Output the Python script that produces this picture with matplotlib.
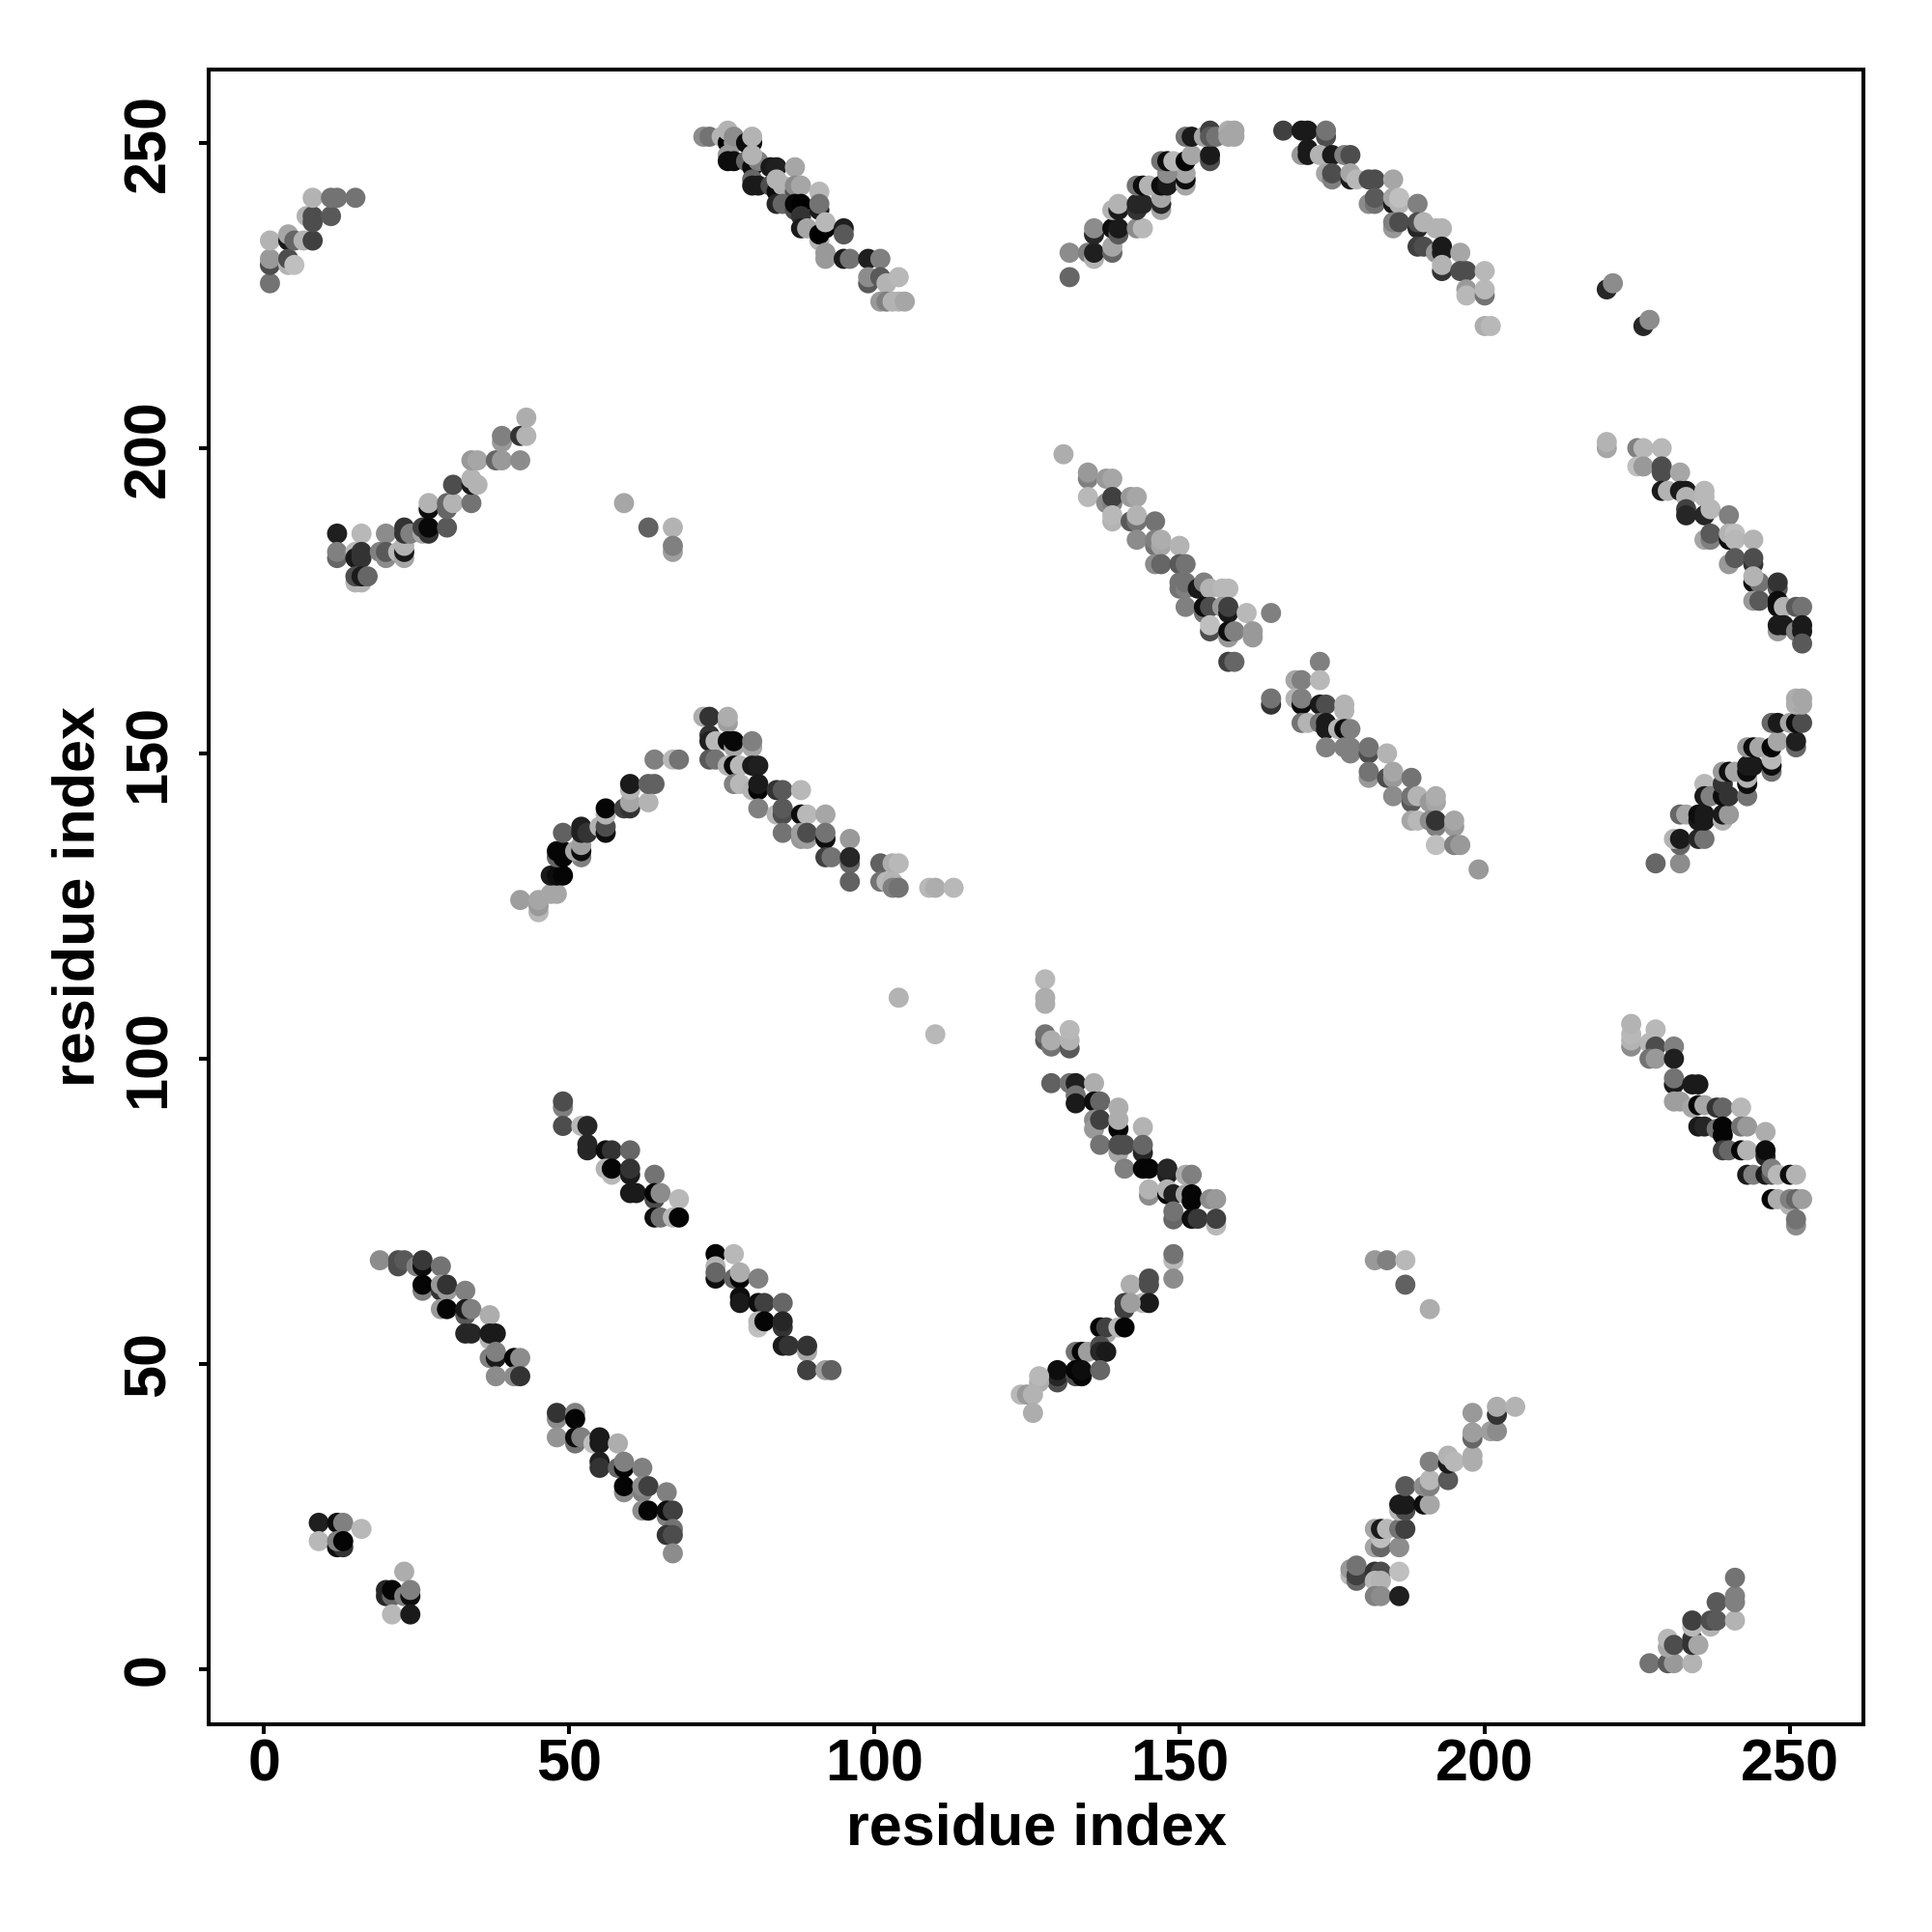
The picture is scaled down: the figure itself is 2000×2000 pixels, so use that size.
import matplotlib
matplotlib.use("Agg")
import matplotlib.pyplot as plt

# each record: residue index i, residue index j, grey level of the contact
top_left = [(1,227,.45),(1,230,.3),(1,231,.6),(1,234,.7),(4,234,.1),(4,235,.65),(4,230,.7),(4,231,.3),(5,230,.75),(5,234,.4),(6.5,234,.7),(8,234,.25),
 (7,238,.7),(8,237,.3),(8,238,.3),(11,238,.35),(8,241,.7),(11,241,.45),(12,241,.45),(15,241,.45)]
top_band = [(72,251,.55),(73,251,.45),(75,251,.7),(76,250,0),(76,252,.7),(77,250,.6),(77,251,.55),(79,250,.05),(80,250,.05),(80,251,.7),
 (76,248,.6),(76,247,.05),(77,247,.05),(79,247,.4),(80,246,.05),(81,247,.5),(80,248,.7),(83,246,.1),(84,246,.12),(87,246,.65),
 (80,244,.4),(80,243,.1),(81,243,.1),(83,243,.3),(84,242,.05),(84,244,.7),(85,243,.7),(87,242,.3),(87,243,.55),(88,243,.65),(91,242,.72),
 (84,240,.15),(85,240,.4),(87,239,.3),(87,240,.03),(88,240,0),(88,238,.2),(91,239,.1),(91,240,.45),
 (88,236,.1),(89,236,.65),(91,234,.7),(91,235,0),(92,236,0),(92,237,.72),(95,236,.12),(95,235,.35),
 (92,232,.6),(92,231,.6),(95,231,.1),(96,231,.45),(99,231,.12),(101,231,.5),(99,227,.35),(99,228,.55),(101,228,.35),(102,227,.7),(104,228,.72),
 (101,224,.6),(102,224,.5),(103,224,.7),(104,224,.7),(105,224,.65)]
left_rise = [(12,186,.12),(16,186,.72),(20,186,.55),(12,182,.4),(12,183,.5),(15,183,.72),(15,182,.1),(16,182,.2),(16,183,.2),
 (19,183,.5),(20,182,.55),(20,183,.35),(22,183,.72),(23,182,.65),(23,183,.1),(23,184,.7),
 (15,178,.7),(16,178,.7),(15,179,.3),(16,179,.1),(17,179,.4),(23,186,.2),(23,187,.2),(24,186,.5),
 (26,186,.65),(26,187,.25),(27,186,.2),(27,187,.03),(30,187,.35),(27,190,.05),(27,191,.7),(30,190,.4),(30,191,.4),(31,191,.7),(34,191,.45),(31,194,.3),
 (34,194,.1),(34,195,.7),(35,194,.7),(34,198,.6),(35,198,.65),(38,198,.4),(39,198,.6),(42,198,.55),(39,201,.6),(39,202,.5),(42,202,.2),(43,202,.7),(43,205,.68)]
lone_left = [(59,191,.65),(63,187,.38),(67,187,.7),(67,183,.62),(67,184,.5)]
top_rise = [(132,228,.4),(132,232,.55),(135,232,.5),(136,231,.7),(136,232,.12),(139,232,.4),(139,233,.65),
 (136,235,.15),(136,236,.55),(139,236,.05),(140,235,.35),(140,236,.1),(143,236,.55),(144,236,.72),
 (139,239,.7),(140,239,.1),(140,240,.7),(143,239,.2),(143,240,.15),(144,240,.15),(147,239,.65),(147,240,.15),(147,241,.65),
 (143,243,.45),(144,243,.05),(145,243,.7),(147,243,.05),(148,243,.1),(151,243,.65),(151,244,.05),(151,245,.65),(148,245,.55),
 (147,247,.45),(148,247,.05),(149,247,.72),(151,247,.02),(152,248,.65),(155,247,.3),(155,248,.1),
 (151,251,.45),(152,251,.1),(154,251,.65),(155,252,.25),(155,251,.35),(156,251,.45),(158,252,.68),(159,252,.65),(158,251,.65),(159,251,.65)]
top_fall = [(167,252,.25),(170,252,.1),(171,252,.1),(174,251,.3),(174,252,.45),
 (170,248,.6),(171,249,.1),(171,248,.1),(173,248,.7),(175,248,.1),(177,248,.5),(178,248,.3),
 (174,245,.65),(175,244,.5),(175,245,.3),(178,244,.1),(178,245,.65),(179,244,.72),(181,244,.3),(182,244,.3),(185,244,.65),
 (181,240,.55),(182,240,.45),(182,241,.35),(185,240,.1),(185,241,.65),(186,240,.7),(186,241,.75),(189,240,.5),
 (185,236,.6),(185,237,.5),(186,237,.3),(189,236,.15),(189,237,.3),(190,237,.7),(192,236,.7),(193,236,.7),
 (189,233,.25),(190,233,.3),(192,232,.6),(193,232,.12),(193,233,.1),(196,232,.65),
 (193,229,.2),(193,230,.7),(196,229,.3),(197,229,.3),(200,229,.72),(197,226,.6),(197,225,.72),(200,225,.45),(200,226,.72),(200,220,.68),(201,220,.72)]
lone_top_right = [(220,226,.15),(221,227,.55),(226,220,.15),(227,221,.55)]
right_fall = [(220,200,.65),(220,201,.7),(225,200,.5),(226,200,.72),(229,200,.72),
 (225,197,.75),(226,197,.6),(229,196,.3),(229,197,.3),(232,196,.65),
 (229,193,.1),(230,193,.7),(232,193,.1),(233,193,.1),(233,192,.7),(236,192,.72),(236,193,.72),
 (233,190,.25),(233,189,.15),(236,189,.15),(237,190,.72),(240,189,.5),
 (236,185,.65),(237,185,.5),(237,186,.35),(240,185,.05),(240,186,.7),(241,186,.75),(241,185,.72),(244,185,.7),
 (240,181,.6),(241,182,.35),(244,181,.2),(244,182,.3),
 (244,178,.05),(245,178,.45),(244,179,.7),(248,177,.35),(248,178,.2),
 (244,175,.6),(245,175,.35),(248,175,.05),(248,174,.05),(249,174,.7),(251,174,.35),(252,174,.45),
 (248,170,.6),(248,171,.1),(249,171,.1),(251,170,.5),(252,171,.1),(252,170,.1),(252,168,.35)]
mid_fall_upper = [(131,199,.68),(135,195,.5),(135,196,.6),(135,192,.72),(138,195,.6),(139,195,.65),
 (138,191,.55),(139,191,.5),(139,192,.25),(139,188,.7),(139,189,.72),(142,192,.6),(143,192,.65),
 (142,188,.35),(143,188,.45),(143,189,.7),(146,188,.45),
 (143,185,.55),(146,184,.45),(146,185,.5),(147,184,.65),(147,185,.68),(150,184,.7),
 (146,181,.55),(147,181,.4),(150,181,.35),(151,181,.45),
 (150,177,.45),(150,178,.45),(151,177,.5),(151,178,.45),(153,177,.1),(154,178,.5),(155,177,.7),(157,177,.72),(158,177,.72),
 (151,174,.5),(154,173,.45),(154,174,.05),(155,174,.3),(157,174,.6),(158,173,.1),(158,174,.25),(161,173,.72),(165,173,.5),
 (155,170,.3),(155,171,.75),(158,169,.6),(158,170,.05),(159,170,.5),(162,169,.6),(162,170,.6),(158,165,.25),(159,165,.4)]
mid_fall_lower = [(173,165,.5),(169,162,.65),(170,162,.5),(173,162,.72),(165,158,.2),(165,159,.45),
 (169,159,.7),(170,158,.05),(170,159,.5),(173,158,.1),(174,158,.3),(177,157,.7),(177,158,.7),
 (170,155,.45),(171,155,.7),(173,155,.45),(174,154,.1),(174,155,.1),(176,154,.7),(177,154,.05),(178,154,.5),
 (174,151,.5),(177,151,.5),(178,150,.5),(178,151,.5),(181,150,.3),(181,151,.45),(184,150,.7),
 (181,146,.6),(181,147,.45),(184,146,.3),(185,146,.6),(185,147,.65),(188,146,.45),
 (185,143,.55),(188,142,.35),(188,143,.45),(189,143,.7),(191,142,.6),(192,142,.65),(192,143,.68),
 (188,139,.65),(189,139,.72),(191,139,.55),(192,138,.5),(192,139,.2),(195,138,.6),(195,139,.65),
 (192,135,.75),(195,135,.5),(196,135,.6),(199,131,.6)]
right_rise = [(228,132,.4),(232,132,.55),(232,135,.4),(231,136,.7),(232,136,.1),(235,136,.15),(236,136,.45),
 (232,140,.4),(233,140,.65),(235,139,.1),(235,140,.05),(236,139,.1),(236,140,.1),(239,139,.7),(239,140,.1),(240,140,.6),
 (236,145,.72),(236,143,.1),(237,143,.5),(239,143,.05),(239,145,.2),(240,143,.2),(243,143,.45),(243,145,.05),(243,146,.7),
 (239,147,.6),(240,147,.05),(241,147,.65),(243,147,.05),(243,148,.1),(244,148,.1),(247,147,.45),(247,148,.05),(247,149,.72),
 (243,151,.6),(244,151,.05),(245,151,.65),(247,151,.02),(248,152,.65),(251,151,.4),(251,152,.12),
 (247,155,.4),(248,155,.1),(250,155,.65),(251,155,.05),(252,155,.3),(251,158,.68),(252,158,.65),(251,159,.68),(252,159,.65)]
peak_rise = [(42,126,.62),(45,124,.72),(45,125,.6),(45,126,.65),(47,127,.65),(48,127,.65),(47,130,.1),(48,130,.05),(49,130,.02),
 (48,133,.4),(48,134,.02),(49,133,.02),(49,134,.02),(52,133,.5),(51,134,.65),(52,134,.05),(52,135,.62),
 (49,137,.38),(52,137,.12),(52,138,.12),(53,137,.2),(55,138,.7),(56,137,.05),(56,138,.3),
 (56,140,.7),(56,141,.02),(59,141,.25),(60,141,.2),(60,142,.65),(63,142,.7),(60,144,.7),(60,145,.1),
 (63,145,.38),(64,145,.38),(64,149,.5),(67,149,.72),(68,149,.45)]
peak_fall = [(72,156,.68),(73,156,.2),(76,155,.62),(76,156,.68),(73,153,.2),(73,152,.12),(74,152,.72),(76,152,.03),(77,151,.65),(77,152,.03),(80,151,.65),(80,152,.5),
 (73,149,.35),(74,149,.45),(76,148,.7),(77,148,.02),(78,148,.72),(80,148,.1),(81,148,.12),
 (77,145,.5),(78,145,.72),(80,144,.7),(81,144,.02),(81,145,.1),(84,144,.2),(85,144,.35),(88,144,.72),
 (81,141,.5),(84,140,.7),(85,140,.3),(85,141,.35),(88,140,.05),(89,140,.72),(92,140,.65),
 (85,137,.45),(88,136,.6),(88,137,.62),(89,136,.62),(89,137,.3),(92,136,.05),(92,137,.45),(96,136,.6),
 (92,133,.25),(93,133,.45),(96,132,.4),(96,133,.15),(96,129,.38),
 (101,132,.38),(103,132,.68),(104,132,.72),(101,129,.45),(102,129,.72),(103,129,.7),(103,128,.5),(104,128,.45),(109,128,.72),(110,128,.68),(113,128,.72),
 (104,110,.7),(110,104,.72)]
centre_fall = [(49,92,.5),(49,93,.3),(49,89,.3),(52,89,.72),(53,89,.15),(53,85,.15),(53,86,.15),(56,85,.05),(57,85,.2),(60,85,.4),
 (56,82,.7),(57,81,.72),(57,82,.02),(60,81,.1),(60,82,.2),(64,81,.45),
 (60,78,.1),(61,78,.1),(64,77,.3),(64,78,.02),(65,78,.55),(68,77,.72),(64,74,.05),(65,74,.45),(67,74,.72),(68,74,.02)]
low_fall_a = [(19,67,.55),(22,66,.3),(22,67,.3),(23,67,.35),(25,66,.5),(26,66,.05),(26,67,.22),(29,66,.45),
 (26,62,.5),(26,63,.02),(29,62,.2),(29,63,.6),(30,62,.6),(30,63,.2),(33,62,.5),
 (29,59,.6),(30,59,.02),(33,58,.35),(33,59,.1),(34,59,.5),(37,58,.68),
 (33,55,.15),(34,55,.15),(37,54,.7),(37,55,.1),(38,55,.1),(37,51,.5),(38,51,.1),(38,52,.5),(41,51,.02),(42,51,.55),
 (38,48,.55),(41,48,.55),(42,48,.2)]
low_fall_b = [(74,68,.02),(74,66,.7),(74,64,.05),(74,65,.4),(77,68,.72),(77,64,.4),(78,64,.02),(78,65,.68),(81,64,.5),
 (78,61,.05),(78,60,.1),(81,60,.05),(82,60,.25),(85,60,.4),(81,56,.75),(81,57,.72),(82,57,.02),(85,56,.2),(85,57,.15),
 (85,53,.1),(86,53,.2),(89,52,.65),(89,53,.2),(89,49,.25),(92,49,.62),(93,49,.38)]
low_fall_c = [(48,41,.55),(48,42,.2),(48,38,.58),(51,42,.5),(51,41,.02),(51,37,.45),(51,38,.05),(52,38,.5),
 (54,37,.75),(55,37,.1),(55,38,.1),(58,37,.68),(55,34,.12),(55,33,.2),(58,33,.4),(59,33,.02),(59,34,.5),(62,33,.5),
 (59,29,.55),(59,30,.02),(62,29,.5),(62,30,.55),(63,30,.25),(66,29,.5),
 (62,26,.55),(63,26,.02),(66,25,.5),(66,26,.05),(67,26,.25),(67,23,.45),(66,22,.2),(67,22,.3),(67,19,.55)]
corner_low = [(9,24,.12),(9,21,.72),(12,24,.05),(13,24,.5),(16,23,.72),(12,20,.05),(13,20,.2),(12,21,.5),(13,21,.02),
 (20,12,.15),(20,13,.15),(21,12,.4),(21,13,.02),(23,16,.68),(23,12,.5),(24,12,.05),(24,13,.5),(21,9,.72),(24,9,.1)]
centre_rise = [(149,67,.72),(149,68,.45),(149,64,.55),(142,63,.68),(145,63,.3),(145,64,.3),(144,60,.72),(145,60,.1),
 (141,59,.25),(141,60,.25),(142,60,.62),(138,55,.65),(137,56,.02),(138,56,.25),(140,56,.72),(141,56,.02),
 (133,52,.45),(134,52,.02),(135,52,.62),(137,53,.3),(137,52,.15),(138,52,.1),
 (130,47,.3),(130,48,.15),(130,49,.05),(133,48,.3),(133,49,.02),(134,48,.02),(134,49,.05),(137,49,.4),
 (127,47,.68),(127,48,.72),(124,45,.72),(125,45,.6),(126,45,.7),(126,42,.68)]
centre_fall_b = [(128,113,.72),(128,109,.68),(128,110,.68),(128,103,.35),(128,104,.45),(129,102,.45),(129,103,.68),(132,101.7,.35),(132,103,.7),(132,104.7,.72),
 (129,96,.38),(132,96,.45),(133,96,.12),(136,96,.68),(133,94,.45),(133,92.7,.1),(136,93,.05),(137,93,.4),(140,92,.68),
 (136,90,.55),(136,88.5,.6),(137,90,.25),(140,88.5,.02),(140,90,.68),(144,88.8,.7),
 (137,85.9,.45),(140,84.6,.65),(140,85.9,.3),(141,85.9,.3),(144,84.6,.15),(144,85.9,.4),
 (141,82,.5),(144,82,.02),(145,82,.02),(148,81,.12),(148,82,.15),(151,81,.68),(152,81,.5),
 (145,77.6,.55),(145,78.6,.7),(148,77.8,.02),(148,78.6,.7),(149,77.8,.12),(151,77.8,.65),(152,76.7,.02),(152,77.8,.02),(155,77,.55),(156,77,.6),
 (149,73.7,.4),(149,75,.45),(152,73.8,.05),(153,73.8,.22),(156,72.7,.72),(156,73.8,.25)]
right_fall_b = [(224,102,.55),(224,103,.7),(224,104,.72),(224,105.7,.7),(228,104.8,.72),(227,102.6,.72),(228,102,.3),(231,102,.5),(227,100,.45),(228,100,.6),(231,100,.12),
 (231,95.8,.1),(231,96.8,.45),(234,95.8,.1),(235,95.8,.1),(231,93,.62),(232,93,.62),
 (234,92,.65),(235,92.4,.02),(236,92.4,.65),(238,92,.2),(239,92,.4),(242,92,.72),
 (235,88.9,.1),(236,88.9,.15),(238,88.5,.45),(239,87.5,.02),(239,88.9,.02),(242,88.9,.45),(243,88.9,.6),(246,88,.68),
 (239,85,.25),(240,85,.4),(242,85,.02),(243,85,.7),(246,84,.15),(246,85,.05),
 (243,81,.1),(244,81,.5),(246,81,.1),(247,81,.35),(247,82,.5),(248,81,.72),(250,81,.05),(251,81,.7),
 (247,77,.02),(248,77,.68),(250,76,.7),(250,77,.5),(251,77,.4),(252,77,.62),(251,72.7,.55),(251,73.7,.45)]
low_rise = [(178,15.4,.72),(178,16.4,.6),(179,14.5,.4),(179,15.4,.25),(179,17,.45),(182,16,.2),(183,16,.3),(182,14.5,.72),(183,14.5,.7),(186,16,.75),
 (182,12,.5),(183,12,.55),(186,12,.12),(182,20,.65),(183,20,.4),(186,20,.55),(183,21.5,.75),
 (182,23,.65),(183,23,.1),(184,23,.72),(186,23,.45),(187,23,.25),(186,26,.7),(187,26,.3),(186,27,.1),(187,27,.1),(187,30,.35),(190,27,.05),(191,27,.65),
 (190,30,.55),(191,30,.5),(191,31,.72),(194,31,.35),(191,34,.5),(194,33.7,.1),(194,35,.7),(195,34,.72),(198,34,.68),(198,35,.68),
 (198,37.8,.4),(198,38.8,.62),(201,39,.62),(202,39,.55),(198,42,.6),(202,41.7,.2),(202,43,.68),(205,43,.7)]
lone_low = [(182,67,.6),(184,67,.5),(187,67,.72),(187,63,.38),(191,59,.68)]
corner_right = [(227,1,.45),(230,1,.35),(231,1,.6),(234,1,.7),(230,3.6,.65),(230,5,.72),(231,4,.3),(234,4,.2),(234,5,.2),(235,4,.65),(234,7,.72),(234,8,.25),
 (237,7,.7),(237,8,.3),(238,8,.35),(238,11,.35),(241,8,.7),(241,11,.5),(241,12,.5),(241,15,.45)]

clusters = [top_left, top_band, left_rise, lone_left, top_rise, top_fall, lone_top_right, right_fall,
            mid_fall_upper, mid_fall_lower, right_rise, peak_rise, peak_fall, centre_fall, low_fall_a,
            low_fall_b, low_fall_c, corner_low, centre_rise, centre_fall_b, right_fall_b, low_rise,
            lone_low, corner_right]
tick_values = [0, 50, 100, 150, 200, 250]
axis_label = "residue index"

W = H = 2000
LEFT, RIGHT, TOP, BOTTOM = 216, 1929, 72, 1785
fig = plt.figure(figsize=(20, 20), dpi=100, facecolor="white")
ax = fig.add_axes([LEFT / W, 1 - BOTTOM / H, (RIGHT - LEFT) / W, (BOTTOM - TOP) / H])
for cluster in clusters:
    xs, ys, greys = zip(*cluster)
    ax.scatter(xs, ys, s=15.0 ** 2, c=[(g, g, g) for g in greys], linewidths=0, zorder=3)

ax.set_xlim(-9.04, 262.04)
ax.set_ylim(-9.0, 262.0)
ax.set_xticks(tick_values)
ax.set_yticks(tick_values)
font = dict(family=["Liberation Sans", "DejaVu Sans"], fontweight="bold", fontsize=44)
ax.set_xticklabels([str(t) for t in tick_values], **font)
ax.set_yticklabels([str(t) for t in tick_values], rotation=90, va="center", **font)
ax.tick_params(axis="x", length=7.5, width=2.9, pad=3, direction="out")
ax.tick_params(axis="y", length=7.5, width=2.9, pad=16, direction="out")
for spine in ax.spines.values():
    spine.set_linewidth(2.9)
ax.set_xlabel(axis_label, **font)
ax.set_ylabel(axis_label, **font)
ax.xaxis.set_label_coords(0.5, -(1894.5 - BOTTOM) / (BOTTOM - TOP), transform=ax.transAxes)
ax.yaxis.set_label_coords(-(LEFT - 82) / (RIGHT - LEFT), 0.5, transform=ax.transAxes)
ax.xaxis.label.set_verticalalignment("center")
ax.yaxis.label.set_verticalalignment("center")
fig.savefig("out.png", dpi=100, facecolor="white")
